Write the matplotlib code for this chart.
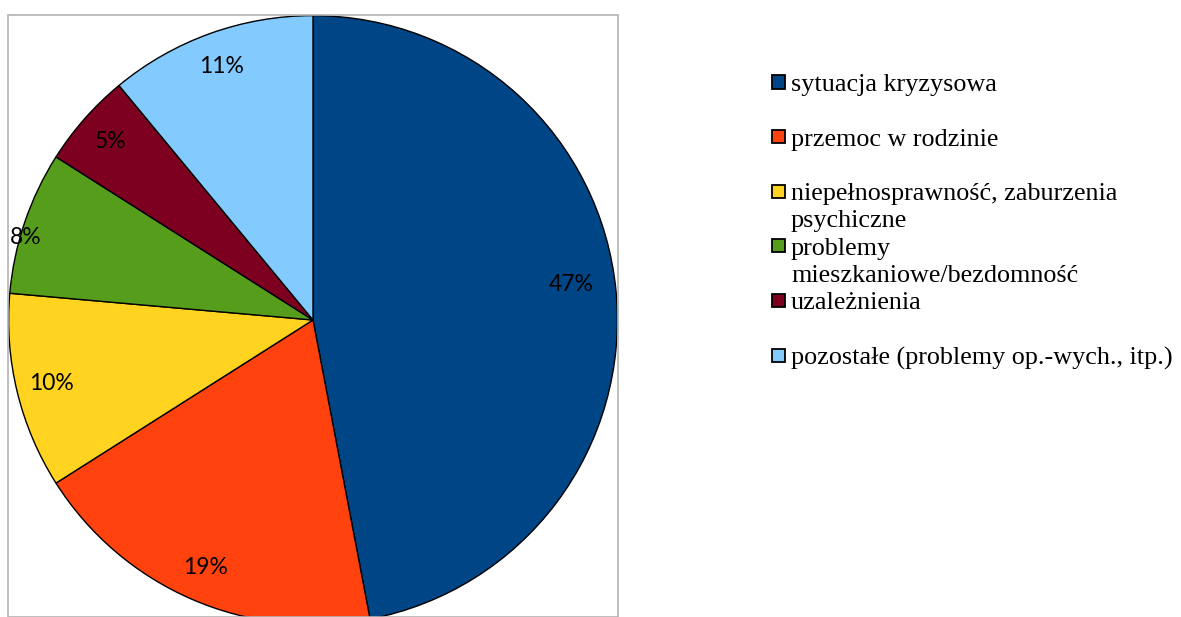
import matplotlib
matplotlib.use("Agg")
from matplotlib import pyplot as plt
from matplotlib.patches import Rectangle

categories = ["sytuacja kryzysowa", "przemoc w rodzinie",
              "niepełnosprawność, zaburzenia\npsychiczne",
              "problemy\nmieszkaniowe/bezdomność", "uzależnienia",
              "pozostałe (problemy op.-wych., itp.)"]
values = [47.0, 19.0, 10.4, 7.6, 5.0, 11.0]
colors = ["#004586", "#ff420e", "#ffd320", "#579d1c", "#7e0021", "#83caff"]

W, H = 1181, 617
fig = plt.figure(figsize=(W / 100, H / 100), dpi=100)

# plot area frame
fig.patches.append(Rectangle((8 / W, 0), 610 / W, 1 - 15 / H, transform=fig.transFigure,
                             fill=False, edgecolor="#b3b3b3", linewidth=1.2))

ax = fig.add_axes([8 / W, -8 / H, 610 / W, 610 / H])
wedges, texts, autotexts = ax.pie(values, colors=colors, startangle=90, counterclock=False,
                                  autopct="%.0f%%", pctdistance=0.885, radius=1,
                                  wedgeprops=dict(edgecolor="black", linewidth=1.0),
                                  textprops=dict(fontsize=16.5, family="Lato", color="black"))
ax.set_xlim(-1.002, 1.002)
ax.set_ylim(-1.002, 1.002)
ax.set_aspect("auto")
ax.axis("off")
# Excel-like label nudges
autotexts[0].set_position((0.849, 0.115))
autotexts[3].set_position((-0.944, 0.272))

# legend, drawn by hand so wrapped entries keep the box on the first line
for i, (lab, col) in enumerate(zip(categories, colors)):
    yc = 82 + i * 54.6
    fig.patches.append(Rectangle((772 / W, 1 - (yc + 6.5) / H), 13 / W, 13 / H,
                                 transform=fig.transFigure, facecolor=col,
                                 edgecolor="black", linewidth=1.3))
    fig.text(791 / W, 1 - (yc - 8) / H, lab, fontsize=18.8, family="Liberation Serif",
             va="top", ha="left", linespacing=1.3)

fig.savefig("out.png", dpi=100)
